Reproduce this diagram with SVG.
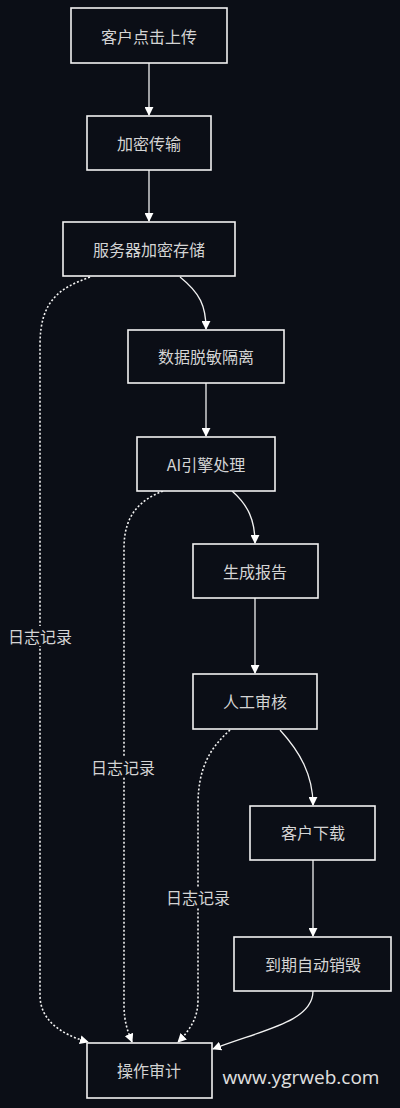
<svg xmlns="http://www.w3.org/2000/svg" width="400" height="1108" viewBox="0 0 400 1108">
<defs>
<marker id="ah" viewBox="0 0 10 10" refX="9" refY="5" markerWidth="9" markerHeight="9" markerUnits="userSpaceOnUse" orient="auto">
<path d="M0,0 L10,5 L0,10 z" fill="#ffffff"/>
</marker>
<style>
.node rect{fill:#0b0e16;stroke:#f2f2f2;stroke-width:1.6}
.node text,.lbl text{font-family:"Noto Sans CJK SC","Noto Sans",sans-serif;font-size:16px;fill:#d4d4d4;text-anchor:middle;dominant-baseline:central}
.e{fill:none;stroke:#f2f2f2;stroke-width:1.3;marker-end:url(#ah)}
.d{fill:none;stroke:#f2f2f2;stroke-width:1.6;stroke-dasharray:2 2;marker-end:url(#ah)}
.lbl rect{fill:#0b0e16}
</style>
</defs>
<rect width="400" height="1108" fill="#0b0e16"/>
<g id="connectors">
<path class="e" d="M149,63 L149,115"/>
<path class="e" d="M149,170 L149,221"/>
<path class="e" d="M180,277 C200,293 206,306 206,329"/>
<path class="e" d="M206,383 L206,436"/>
<path class="e" d="M232,491 C248,505 255,520 255,543"/>
<path class="e" d="M255,598 L255,673"/>
<path class="e" d="M280,730 C300,752 313,775 313,805"/>
<path class="e" d="M313,860 L313,936"/>
<path class="e" d="M313,991 C313,1022 262,1030 213,1049"/>
<path class="d" d="M90,277 C60,288 40,300 40,345 L40,995 C40,1020 60,1034 88,1042"/>
<path class="d" d="M163,491 C140,500 124,515 124,548 L124,1005 C124,1022 128,1032 132,1042"/>
<path class="d" d="M230,730 C210,748 198,768 198,805 L198,1000 C198,1018 190,1030 178,1042"/>
</g>
<g class="lbl" id="label-1"><rect x="6" y="626" width="68" height="20"/><text x="40" y="636">日志记录</text></g>
<g class="lbl" id="label-2"><rect x="89" y="757" width="68" height="20"/><text x="123" y="767">日志记录</text></g>
<g class="lbl" id="label-3"><rect x="164" y="887" width="68" height="20"/><text x="198" y="897">日志记录</text></g>
<g class="node" id="n1"><rect x="71" y="8" width="156" height="55"/><text x="149" y="36">客户点击上传</text></g>
<g class="node" id="n2"><rect x="87" y="116" width="124" height="54"/><text x="149" y="143">加密传输</text></g>
<g class="node" id="n3"><rect x="63" y="222" width="172" height="54"/><text x="149" y="249">服务器加密存储</text></g>
<g class="node" id="n4"><rect x="128" y="330" width="156" height="53"/><text x="206" y="356">数据脱敏隔离</text></g>
<g class="node" id="n5"><rect x="137" y="437" width="138" height="54"/><text x="206" y="464">AI引擎处理</text></g>
<g class="node" id="n6"><rect x="193" y="544" width="125" height="54"/><text x="255" y="571">生成报告</text></g>
<g class="node" id="n7"><rect x="193" y="674" width="124" height="55"/><text x="255" y="701">人工审核</text></g>
<g class="node" id="n8"><rect x="250" y="806" width="125" height="54"/><text x="313" y="832">客户下载</text></g>
<g class="node" id="n9"><rect x="234" y="937" width="157" height="54"/><text x="313" y="964">到期自动销毁</text></g>
<g class="node" id="n10"><rect x="87" y="1043" width="125" height="55"/><text x="149" y="1070">操作审计</text></g>
<text x="301" y="1077" font-family="'Open Sans','Noto Sans',sans-serif" font-size="19" fill="#e0e0e0" text-anchor="middle" dominant-baseline="central">www.ygrweb.com</text>
</svg>
